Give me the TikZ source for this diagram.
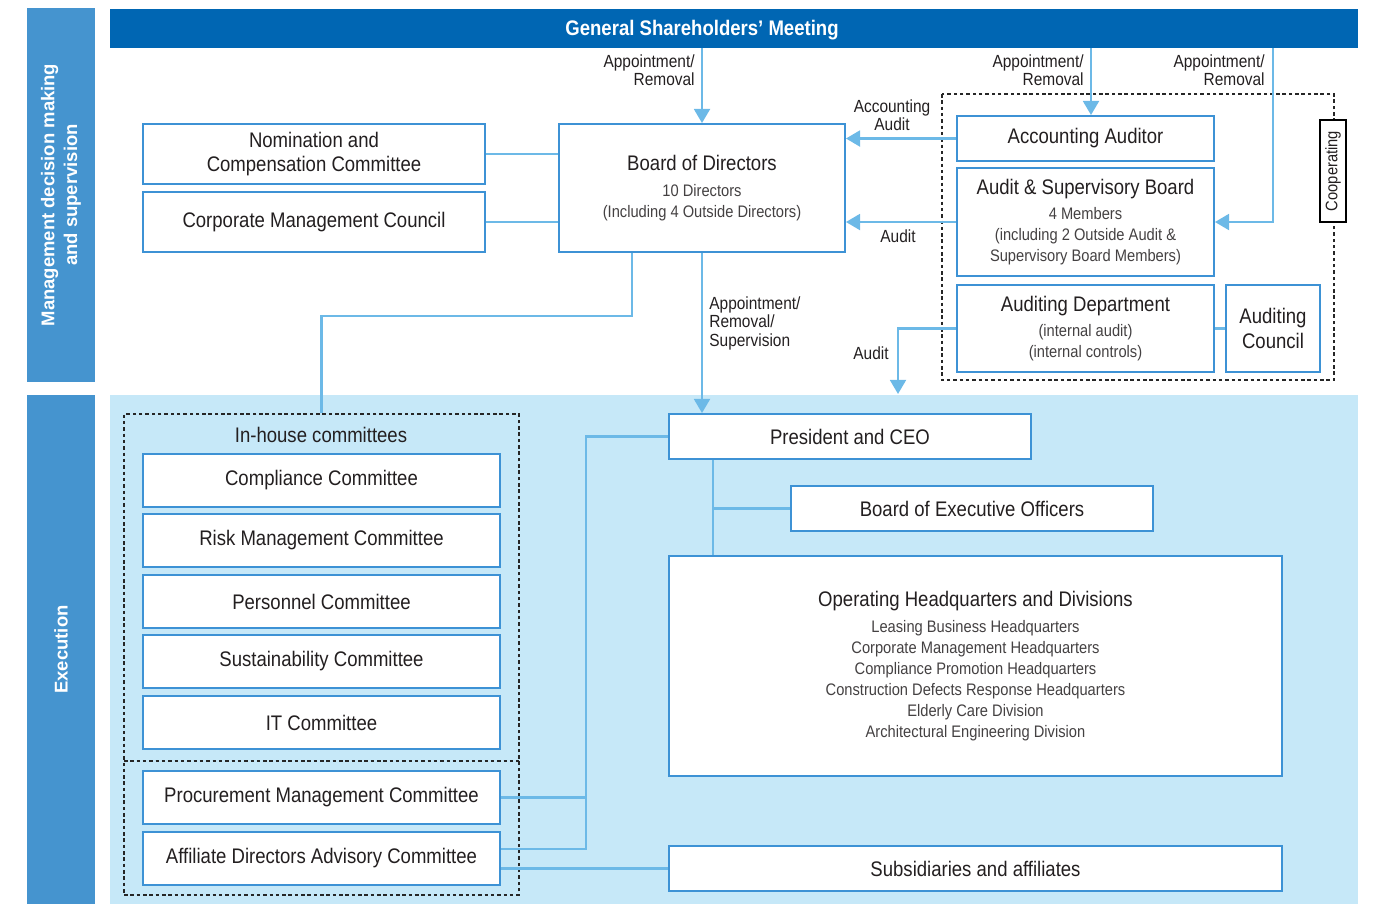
\documentclass[tikz,border=0pt]{standalone}
\usepackage{fontspec}
\setmainfont{Liberation Sans}[FakeStretch=0.88]
\newfontfamily\barfont{Liberation Sans}
\usepackage{tikz}
\usetikzlibrary{arrows.meta,calc,positioning}
\definecolor{Navy}{HTML}{0066B3}
\definecolor{Bar}{HTML}{4594CF}
\definecolor{Sky}{HTML}{C6E8F8}
\definecolor{Edge}{HTML}{3D92D5}
\definecolor{Wire}{HTML}{6CB9E7}
\definecolor{Ink}{HTML}{231F20}
\newcommand\subln{\fontsize{9.5}{12}\selectfont\color{Ink!85}}

\begin{document}
\begin{tikzpicture}[x=0.02cm,y=-0.02cm,
        box/.style={draw=Edge,fill=white,line width=1.1pt,align=center,inner sep=2pt,text=Ink,font=\fontsize{12}{14}\selectfont},
        cbox/.style={box,minimum width=7.14cm,minimum height=1.06cm},
        wire/.style={draw=Wire,line width=1.4pt},
        arr/.style={wire,-{Triangle[width=9pt,length=8pt]}},
        tag/.style={text=Ink,font=\fontsize{10}{10.5}\selectfont,inner sep=0pt},
        sidebar/.style={fill=Bar,text=white,rotate=90,align=center,font=\barfont\bfseries\fontsize{10.5}{13}\selectfont},
        dots/.style={draw=black!85,line width=0.7pt,dash pattern=on 2pt off 1.6pt}]
        \useasboundingbox (0,0) rectangle (1373,904);

        % bands
        \fill[Sky] (110,395) rectangle (1358,904);
        \node[sidebar,minimum width=7.48cm,minimum height=1.36cm] (sideA) at (61,195) {Management decision making\\and supervision};
        \node[sidebar,minimum width=10.18cm,minimum height=1.36cm] (sideB) at (61,649.5) {Execution};
        \node[fill=Navy,minimum width=24.96cm,minimum height=0.78cm] (gsm) at (734,28.5) {};
        \node[text=white,font=\bfseries\fontsize{12}{14}\selectfont] (gsmtxt) at (702,30) {General Shareholders’ Meeting};

        % supervision
        \node[box,minimum width=6.84cm,minimum height=1.2cm] (nom) at (314,154) {Nomination and\\Compensation Committee};
        \node[box,minimum width=6.84cm,minimum height=1.2cm] (cmc) at (314,222) {Corporate Management Council};
        \node[box,minimum width=5.72cm,minimum height=2.56cm] (bod) at (702,188) {Board of Directors\\[1pt]\subln 10 Directors\\[-2pt]\subln (Including 4 Outside Directors)};

        \draw[dots] (942,94) rectangle (1334,380);
        \node[box,minimum width=5.14cm,minimum height=0.9cm] (acc) at (1085.5,138.5) {Accounting Auditor};
        \node[box,minimum width=5.14cm,minimum height=2.16cm] (asb) at (1085.5,222) {Audit \& Supervisory Board\\[0pt]\subln 4 Members\\[-2pt]\subln (including 2 Outside Audit \&\\[-2pt]\subln Supervisory Board Members)};
        \node[box,minimum width=5.14cm,minimum height=1.74cm] (adep) at (1085.5,328.5) {Auditing Department\\[0pt]\subln (internal audit)\\[-2pt]\subln (internal controls)};
        \node[box,minimum width=1.88cm,minimum height=1.74cm] (acou) at (1273,328.5) {Auditing\\Council};
        \node[draw=black,fill=white,line width=0.6pt,rotate=90,minimum width=2.04cm,minimum height=0.52cm,inner sep=1pt,text=Ink,font=\fontsize{9.5}{11}\selectfont] (coop) at (1333,171) {Cooperating};

        % execution
        \node[dots,minimum width=7.9cm,minimum height=9.62cm] (inh) at (321.5,654.5) {};
        \draw[dots] (124,761) -- (519,761);
        \node[text=Ink,font=\fontsize{12}{14}\selectfont] (inhlbl) at (321,435) {In-house committees};
        \node[cbox] (cmp) at (321.5,480.5) {Compliance Committee};
        \node[cbox] (risk) at (321.5,540.5) {Risk Management Committee};
        \node[cbox] (pers) at (321.5,601.5) {Personnel Committee};
        \node[cbox] (sus) at (321.5,661.5) {Sustainability Committee};
        \node[cbox] (itc) at (321.5,722.5) {IT Committee};
        \node[cbox] (proc) at (321.5,797.5) {Procurement Management Committee};
        \node[cbox] (aff) at (321.5,858.5) {Affiliate Directors Advisory Committee};

        \node[box,minimum width=7.24cm,minimum height=0.9cm] (ceo) at (850,436.5) {President and CEO};
        \node[box,minimum width=7.24cm,minimum height=0.9cm] (beo) at (972,508.5) {Board of Executive Officers};
        \node[box,minimum width=12.26cm,minimum height=4.4cm] (ops) at (975.5,666) {Operating Headquarters and Divisions\\[1pt]\subln Leasing Business Headquarters\\[-2pt]\subln Corporate Management Headquarters\\[-2pt]\subln Compliance Promotion Headquarters\\[-2pt]\subln Construction Defects Response Headquarters\\[-2pt]\subln Elderly Care Division\\[-2pt]\subln Architectural Engineering Division};
        \node[box,minimum width=12.26cm,minimum height=0.9cm] (subs) at (975.5,868.5) {Subsidiaries and affiliates};

        % labels
        \node[tag,anchor=east,align=right] (lbl1) at (695,70) {Appointment/\\Removal};
        \node[tag,anchor=east,align=right] (lbl2) at (1084,70) {Appointment/\\Removal};
        \node[tag,anchor=east,align=right] (lbl3) at (1265,70) {Appointment/\\Removal};
        \node[tag,align=center] (lbl4) at (892,115) {Accounting\\Audit};
        \node[tag] (lbl5) at (898,236) {Audit};
        \node[tag] (lbl6) at (871,353) {Audit};
        \node[tag,anchor=west,align=left] (lbl7) at (709,323) {Appointment/\\Removal/\\Supervision};

        % connectors
        \draw[arr] (gsm.south -| bod.north) -- (bod.north);
        \coordinate (acctop) at ([xshift=0.11cm]acc.north);
        \draw[arr] (gsm.south -| acctop) -- (acctop);
        \draw[arr] (gsm.south -| acou.north) |- (asb.east);
        \draw[arr] (acc.west) -- (acc.west -| bod.east);
        \draw[arr] (asb.west) -- (asb.west -| bod.east);
        \coordinate (auditend) at (898,394);
        \draw[arr] (adep.west) -| (auditend);
        \draw[wire] (adep.east) -- (acou.west);
        \draw[wire] (nom.east) -- (nom.east -| bod.west);
        \draw[wire] (cmc.east) -- (cmc.east -| bod.west);
        \draw[arr] (bod.south) -- (bod.south |- ceo.north);
        \draw[wire] ([xshift=-1.4cm]bod.south) -- ++(0,63) -| (inh.north);
        \coordinate (bus) at (586,849);
        \draw[wire] (ceo.west) -| (bus) -- (bus -| aff.east);
        \draw[wire] (proc.east) -- (proc.east -| bus);
        \draw[wire] (aff.east |- subs.west) -- (subs.west);
        \coordinate (trunk) at ([xshift=0.9cm]ceo.south west);
        \draw[wire] (trunk) -- (trunk |- ops.north);
        \draw[wire] (beo.west) -- (beo.west -| trunk);
\end{tikzpicture}
\end{document}
